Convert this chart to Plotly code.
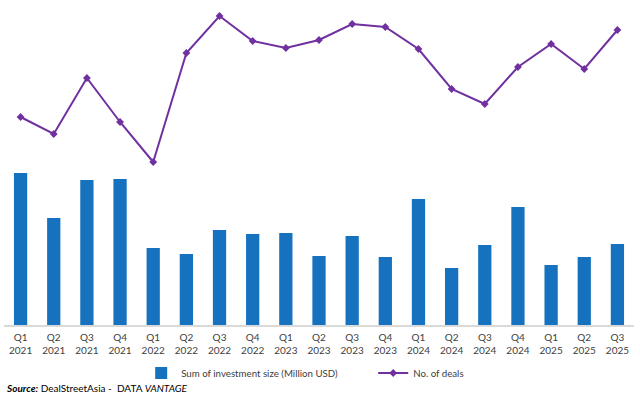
import plotly.graph_objects as go

quarters = ["Q1", "Q2", "Q3", "Q4", "Q1", "Q2", "Q3", "Q4", "Q1", "Q2", "Q3", "Q4",
            "Q1", "Q2", "Q3", "Q4", "Q1", "Q2", "Q3"]
years = ["2021"] * 4 + ["2022"] * 4 + ["2023"] * 4 + ["2024"] * 4 + ["2025"] * 3
categories = [f"{q}<br>{y}" for q, y in zip(quarters, years)]

investment = [1520, 1070, 1450, 1460, 770, 710, 950, 910, 920, 690, 890, 680,
              1260, 570, 800, 1180, 600, 680, 810]
deals = [83, 66, 122, 78, 38, 147, 184, 159, 152, 160, 176, 173,
         151, 111, 96, 133, 156, 131, 170]

fig = go.Figure()
fig.add_trace(go.Bar(
    x=categories, y=investment, name="Sum of investment size (Million USD)",
    marker=dict(color="#1672BF", line=dict(width=0)), yaxis="y",
))
fig.add_trace(go.Scatter(
    x=categories, y=deals, name="No. of deals", mode="lines+markers",
    line=dict(color="#7030A0", width=2),
    marker=dict(symbol="diamond", size=6, color="#7030A0"),
    yaxis="y2",
))

fig.update_layout(
    width=640, height=404,
    margin=dict(l=4, r=6, t=5, b=79, autoexpand=False),
    paper_bgcolor="white", plot_bgcolor="white",
    bargap=0.6,
    font=dict(family="Lato", size=10, color="#595959"),
    xaxis=dict(showgrid=False, showline=True, linecolor="#D9D9D9", linewidth=1.5,
               ticks="", tickfont=dict(size=10, color="#404040"), fixedrange=True,
               range=[-0.5, 18.5], autorange=False, automargin=False,
               ticklabelstandoff=2),
    yaxis=dict(range=[0, 3200], autorange=False, visible=False, showgrid=False, zeroline=False),
    yaxis2=dict(range=[-125, 195], autorange=False, overlaying="y", visible=False,
                showgrid=False, zeroline=False),
    legend=dict(orientation="h", x=0.586, xanchor="center", y=-0.15, yanchor="middle",
                font=dict(size=9.7, color="#404040"), entrywidth=187, bgcolor="rgba(0,0,0,0)"),
    showlegend=True,
    annotations=[dict(
        text="<b><i>Source:</i></b> DealStreetAsia -  DATA <i>VANTAGE</i>",
        xref="paper", yref="paper", x=0, y=-0.197, xanchor="left", yanchor="middle",
        xshift=0, showarrow=False, font=dict(size=10, color="#000000"),
    )],
)

fig.write_html("out.html", config={"displayModeBar": False},
               post_script="document.body.style.margin='0';")
